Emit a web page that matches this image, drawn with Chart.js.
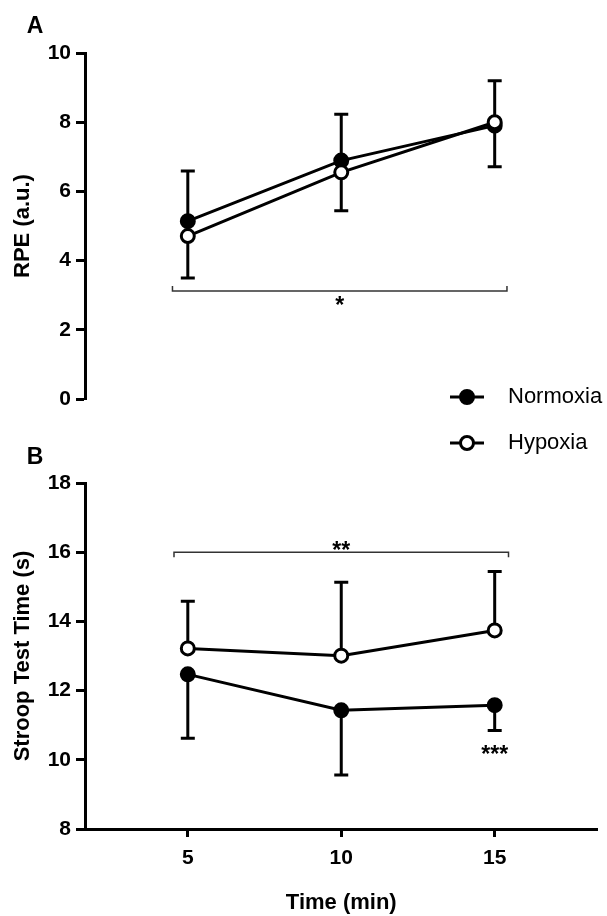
<!DOCTYPE html>
<html>
<head>
<meta charset="utf-8">
<script src="https://cdn.jsdelivr.net/npm/chart.js@4.4.0/dist/chart.umd.min.js"></script>
<style>
  body { margin: 0; background: #fff; }
  #wrap { position: relative; width: 607px; height: 916px; }
  canvas { position: absolute; left: 0; }
  #rpe { top: 0; }
  #stroop { top: 380px; }
</style>
</head>
<body>
<div id="wrap">
  <canvas id="rpe" width="607" height="440"></canvas>
  <canvas id="stroop" width="607" height="536"></canvas>
</div>
<script>
// time points (min)
var times = [5, 10, 15];

// panel A - RPE (a.u.)
var rpeNormoxia = [5.14, 6.89, 7.90];
var rpeNormoxiaSD = [1.64, 1.45, 1.19];
var rpeHypoxia = [4.71, 6.55, 8.00];
var rpeHypoxiaSD = [1.88, 1.68, 1.20];
var rpeTicks = [0, 2, 4, 6, 8, 10];

// panel B - Stroop test time (s)
var stroopNormoxia = [12.47, 11.43, 11.58];
var stroopNormoxiaSD = [1.85, 1.87, 0.73];
var stroopHypoxia = [13.22, 13.01, 13.74];
var stroopHypoxiaSD = [1.36, 2.12, 1.70];
var stroopTicks = [8, 10, 12, 14, 16, 18];

var seriesNames = ['Normoxia', 'Hypoxia'];

// significance marks (data units)
var rpeSig = { from: 4.5, to: 15.4, y: 3.12, text: '*', textY: 2.86, end: 1 };
var stroopSig = { from: 4.55, to: 15.45, y: 16.0, text: '**', textY: 16.22, end: -1 };
var stroopPost = { x: 15, y: 10.3, text: '***' };

var FONT = '"Liberation Sans", Arial, Helvetica, sans-serif';
Chart.defaults.font.family = FONT;
Chart.defaults.color = '#000';

function pts(vals) {
  return vals.map(function(v, i) { return { x: times[i], y: v }; });
}

// one-sided SD bars, drawn under the markers
var errorBars = {
  id: 'errorBars',
  beforeDatasetsDraw: function(chart) {
    var ctx = chart.ctx, xs = chart.scales.x, ys = chart.scales.y;
    ctx.save();
    ctx.strokeStyle = '#000';
    ctx.lineWidth = 3;
    chart.data.datasets.forEach(function(ds) {
      ds.data.forEach(function(p, i) {
        var x = xs.getPixelForValue(p.x);
        var y0 = ys.getPixelForValue(p.y);
        var y1 = ys.getPixelForValue(p.y + ds.errDir * ds.errors[i]);
        ctx.beginPath();
        ctx.moveTo(x, y0); ctx.lineTo(x, y1);
        ctx.moveTo(x - 7, y1); ctx.lineTo(x + 7, y1);
        ctx.stroke();
      });
    });
    ctx.restore();
  }
};

function starText(ctx, text, x, yCenter) {
  ctx.font = 'bold 23px ' + FONT;
  ctx.textAlign = 'center';
  ctx.textBaseline = 'alphabetic';
  ctx.fillText(text, x, yCenter + 13);
}

var marks = {
  id: 'marks',
  afterDraw: function(chart, args, opts) {
    var ctx = chart.ctx, xs = chart.scales.x, ys = chart.scales.y;
    ctx.save();
    ctx.fillStyle = '#000';
    if (opts.sig) {
      var s = opts.sig;
      var xa = xs.getPixelForValue(s.from), xb = xs.getPixelForValue(s.to);
      var y = ys.getPixelForValue(s.y);
      ctx.strokeStyle = '#333';
      ctx.lineWidth = 1.5;
      ctx.beginPath();
      ctx.moveTo(xa, y + 5 * s.end * -1); ctx.lineTo(xa, y);
      ctx.lineTo(xb, y); ctx.lineTo(xb, y + 5 * s.end * -1);
      ctx.stroke();
      starText(ctx, s.text, xs.getPixelForValue((s.from + s.to) / 2), ys.getPixelForValue(s.textY));
    }
    if (opts.post) {
      starText(ctx, opts.post.text, xs.getPixelForValue(opts.post.x), ys.getPixelForValue(opts.post.y));
    }
    if (opts.letter) {
      ctx.font = 'bold 23px ' + FONT;
      ctx.textAlign = 'center';
      ctx.textBaseline = 'middle';
      ctx.fillText(opts.letter.text, opts.letter.x, opts.letter.y);
    }
    if (opts.legend) {
      var lg = opts.legend;
      chart.data.datasets.forEach(function(ds, i) {
        var ly = lg.y + i * lg.gap;
        ctx.strokeStyle = '#000';
        ctx.lineWidth = 3;
        ctx.beginPath();
        ctx.moveTo(lg.x - 17, ly); ctx.lineTo(lg.x + 17, ly);
        ctx.stroke();
        ctx.beginPath();
        ctx.arc(lg.x, ly, 6.5, 0, Math.PI * 2);
        ctx.fillStyle = ds.pointBackgroundColor;
        ctx.fill();
        ctx.stroke();
        ctx.fillStyle = '#000';
        ctx.font = '22px ' + FONT;
        ctx.textAlign = 'left';
        ctx.textBaseline = 'middle';
        ctx.fillText(ds.label, lg.x + 41, ly);
      });
    }
    ctx.restore();
  }
};

function makeDatasets(norm, normSD, hyp, hypSD) {
  return [
    {
      label: seriesNames[0], data: pts(norm), errors: normSD, errDir: -1,
      borderColor: '#000', borderWidth: 3,
      pointBackgroundColor: '#000', pointBorderColor: '#000',
      pointBorderWidth: 3, pointRadius: 6.5, order: 1
    },
    {
      label: seriesNames[1], data: pts(hyp), errors: hypSD, errDir: 1,
      borderColor: '#000', borderWidth: 3,
      pointBackgroundColor: '#fff', pointBorderColor: '#000',
      pointBorderWidth: 3, pointRadius: 6.5, order: 0
    }
  ];
}

function yAxis(ticks, title) {
  return {
    min: ticks[0], max: ticks[ticks.length - 1],
    afterBuildTicks: function(s) { s.ticks = ticks.map(function(v) { return { value: v }; }); },
    afterFit: function(s) { s.width = 85; },
    border: { display: true, color: '#000', width: 3 },
    grid: { drawOnChartArea: false, drawTicks: true, tickLength: 9, tickWidth: 3, tickColor: '#000' },
    ticks: { padding: 5, color: '#000', font: { size: 21, weight: 'bold' } },
    title: { display: true, text: title, color: '#000', padding: { top: 10, bottom: 0 },
             font: { size: 22, weight: 'bold' } }
  };
}

var xMin = 1.65, xMax = 18.35;

new Chart(document.getElementById('rpe'), {
  type: 'line',
  data: { datasets: makeDatasets(rpeNormoxia, rpeNormoxiaSD, rpeHypoxia, rpeHypoxiaSD) },
  options: {
    responsive: false, animation: false,
    layout: { padding: { top: 53, right: 2, bottom: 41, left: 0 } },
    scales: {
      x: { type: 'linear', min: xMin, max: xMax, display: false },
      y: yAxis(rpeTicks, 'RPE (a.u.)')
    },
    plugins: {
      legend: { display: false }, tooltip: { enabled: false },
      marks: { sig: rpeSig, letter: { text: 'A', x: 35, y: 27 } }
    }
  },
  plugins: [errorBars, marks]
});

new Chart(document.getElementById('stroop'), {
  type: 'line',
  data: { datasets: makeDatasets(stroopNormoxia, stroopNormoxiaSD, stroopHypoxia, stroopHypoxiaSD) },
  options: {
    responsive: false, animation: false,
    layout: { padding: { top: 103, right: 2, bottom: 0, left: 0 } },
    scales: {
      x: {
        type: 'linear', min: xMin, max: xMax,
        afterBuildTicks: function(s) { s.ticks = times.map(function(v) { return { value: v }; }); },
        afterFit: function(s) { s.height = 87; },
        border: { display: true, color: '#000', width: 3 },
        grid: { drawOnChartArea: false, drawTicks: true, tickLength: 8, tickWidth: 3, tickColor: '#000' },
        ticks: { padding: 9, color: '#000', maxRotation: 0, font: { size: 21, weight: 'bold' } },
        title: { display: true, text: 'Time (min)', color: '#000', padding: { top: 0, bottom: 0 },
                 font: { size: 22, weight: 'bold' } }
      },
      y: yAxis(stroopTicks, 'Stroop Test Time (s)')
    },
    plugins: {
      legend: { display: false }, tooltip: { enabled: false },
      marks: { sig: stroopSig, post: stroopPost, letter: { text: 'B', x: 35, y: 78 },
               legend: { x: 467, y: 17, gap: 46 } }
    }
  },
  plugins: [errorBars, marks]
});
</script>
</body>
</html>
